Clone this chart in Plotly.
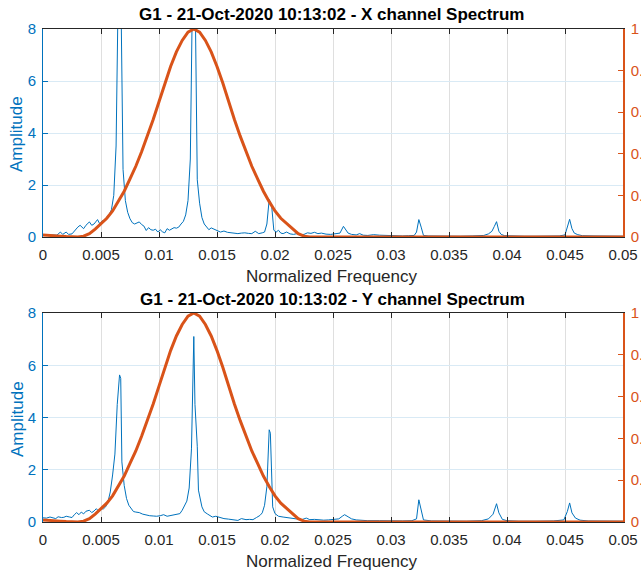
import plotly.graph_objects as go

# ---------------- data ----------------
freq_x = [0.0000, 0.0004, 0.0008, 0.0012, 0.0015, 0.0017, 0.0020, 0.0022, 0.0025, 0.0028,
          0.0030, 0.0032, 0.0035, 0.0037, 0.0040, 0.0042, 0.0044, 0.0047, 0.0049, 0.0051,
          0.0053, 0.0055, 0.0057, 0.0059, 0.0061, 0.0063, 0.0065, 0.0067, 0.0069, 0.0071,
          0.0073, 0.0075, 0.0077, 0.0079, 0.0081, 0.0083, 0.0085, 0.0087, 0.0089, 0.0091,
          0.0093, 0.0095, 0.0097, 0.0099, 0.0101, 0.0103, 0.0105, 0.0107, 0.0109, 0.0111,
          0.0113, 0.0115, 0.0117, 0.0119, 0.0121, 0.0123, 0.0125, 0.0127, 0.0129, 0.0131,
          0.0133, 0.0135, 0.0137, 0.0139, 0.0141, 0.0143, 0.0145, 0.0147, 0.0150, 0.0153,
          0.0156, 0.0159, 0.0162, 0.0165, 0.0168, 0.0171, 0.0174, 0.0177, 0.0180, 0.0183,
          0.0186, 0.0189, 0.0191, 0.0193, 0.0195, 0.0197, 0.0199, 0.0201, 0.0203, 0.0205,
          0.0207, 0.0210, 0.0213, 0.0216, 0.0219, 0.0222, 0.0225, 0.0228, 0.0231, 0.0234,
          0.0237, 0.0240, 0.0244, 0.0248, 0.0252, 0.0256, 0.0259, 0.0261, 0.0263, 0.0266,
          0.0270, 0.0273, 0.0276, 0.0280, 0.0285, 0.0290, 0.0295, 0.0300, 0.0305, 0.0310,
          0.0315, 0.0320, 0.0322, 0.0324, 0.0326, 0.0328, 0.0332, 0.0340, 0.0350, 0.0360,
          0.0370, 0.0380, 0.0384, 0.0387, 0.0389, 0.0391, 0.0393, 0.0395, 0.0398, 0.0405,
          0.0415, 0.0425, 0.0435, 0.0445, 0.0450, 0.0452, 0.0454, 0.0456, 0.0458, 0.0461,
          0.0465, 0.0475, 0.0485, 0.0500]
amp_x = [0.07, 0.06, 0.08, 0.07, 0.19, 0.10, 0.19, 0.10, 0.12, 0.30,
         0.38, 0.45, 0.32, 0.45, 0.58, 0.45, 0.50, 0.67, 0.50, 0.62,
         0.64, 0.77, 0.85, 1.05, 1.60, 3.50, 10.0, 10.0, 2.60, 1.40,
         0.95, 0.70, 0.55, 0.50, 0.55, 0.58, 0.48, 0.42, 0.25, 0.36,
         0.28, 0.26, 0.30, 0.19, 0.28, 0.20, 0.16, 0.32, 0.26, 0.30,
         0.36, 0.34, 0.38, 0.50, 0.60, 0.85, 1.40, 3.00, 10.0, 10.0,
         2.20, 1.30, 0.75, 0.50, 0.40, 0.28, 0.35, 0.30, 0.25, 0.19,
         0.23, 0.18, 0.16, 0.14, 0.13, 0.15, 0.16, 0.14, 0.13, 0.22,
         0.13, 0.16, 0.19, 0.50, 1.44, 1.25, 0.26, 0.19, 0.26, 0.15,
         0.13, 0.19, 0.12, 0.10, 0.13, 0.09, 0.10, 0.16, 0.14, 0.18,
         0.13, 0.15, 0.11, 0.10, 0.12, 0.15, 0.41, 0.30, 0.15, 0.10,
         0.08, 0.13, 0.07, 0.06, 0.09, 0.07, 0.06, 0.05, 0.05, 0.04,
         0.05, 0.06, 0.19, 0.67, 0.38, 0.06, 0.04, 0.03, 0.03, 0.03,
         0.04, 0.06, 0.12, 0.22, 0.40, 0.59, 0.22, 0.10, 0.05, 0.03,
         0.03, 0.03, 0.03, 0.04, 0.08, 0.38, 0.68, 0.32, 0.15, 0.09,
         0.05, 0.04, 0.04, 0.03]

freq_y = [0.0000, 0.0003, 0.0006, 0.0009, 0.0011, 0.0013, 0.0016, 0.0018, 0.0020, 0.0023,
          0.0025, 0.0027, 0.0029, 0.0031, 0.0033, 0.0035, 0.0037, 0.0040, 0.0042, 0.0044,
          0.0046, 0.0048, 0.0050, 0.0052, 0.0054, 0.0056, 0.0058, 0.0060, 0.0062, 0.0064,
          0.0066, 0.0067, 0.0068, 0.0070, 0.0072, 0.0074, 0.0076, 0.0078, 0.0080, 0.0083,
          0.0086, 0.0089, 0.0092, 0.0095, 0.0098, 0.0101, 0.0104, 0.0107, 0.0110, 0.0112,
          0.0115, 0.0118, 0.0120, 0.0122, 0.0124, 0.0126, 0.0128, 0.0130, 0.0131, 0.0133,
          0.0134, 0.0137, 0.0139, 0.0142, 0.0144, 0.0146, 0.0149, 0.0152, 0.0156, 0.0160,
          0.0164, 0.0168, 0.0171, 0.0175, 0.0178, 0.0181, 0.0184, 0.0187, 0.0189, 0.0191,
          0.0193, 0.0195, 0.0196, 0.0197, 0.0198, 0.0200, 0.0203, 0.0207, 0.0211, 0.0216,
          0.0220, 0.0223, 0.0227, 0.0230, 0.0234, 0.0238, 0.0242, 0.0246, 0.0250, 0.0255,
          0.0258, 0.0260, 0.0263, 0.0266, 0.0270, 0.0275, 0.0280, 0.0290, 0.0300, 0.0310,
          0.0318, 0.0322, 0.0324, 0.0326, 0.0328, 0.0335, 0.0350, 0.0365, 0.0378, 0.0384,
          0.0388, 0.0391, 0.0393, 0.0396, 0.0400, 0.0410, 0.0425, 0.0440, 0.0449, 0.0452,
          0.0454, 0.0456, 0.0459, 0.0463, 0.0470, 0.0485, 0.0500]
amp_y = [0.16, 0.15, 0.19, 0.14, 0.13, 0.20, 0.17, 0.18, 0.22, 0.19,
         0.17, 0.28, 0.36, 0.28, 0.38, 0.31, 0.41, 0.45, 0.36, 0.42,
         0.51, 0.41, 0.51, 0.50, 0.58, 0.77, 1.15, 1.80, 2.60, 4.50,
         5.63, 5.50, 2.30, 1.40, 0.90, 0.64, 0.50, 0.40, 0.38, 0.36,
         0.30, 0.26, 0.24, 0.23, 0.22, 0.24, 0.28, 0.22, 0.24, 0.26,
         0.30, 0.32, 0.45, 0.60, 0.80, 1.30, 2.80, 7.10, 4.50, 2.90,
         1.22, 0.58, 0.39, 0.30, 0.26, 0.19, 0.22, 0.17, 0.13, 0.11,
         0.09, 0.06, 0.13, 0.09, 0.10, 0.09, 0.17, 0.25, 0.35, 0.64,
         1.35, 3.53, 3.40, 1.60, 0.58, 0.32, 0.22, 0.19, 0.17, 0.13,
         0.10, 0.09, 0.15, 0.09, 0.10, 0.08, 0.07, 0.08, 0.10, 0.12,
         0.22, 0.28, 0.20, 0.12, 0.08, 0.06, 0.05, 0.05, 0.04, 0.04,
         0.05, 0.12, 0.85, 0.40, 0.08, 0.04, 0.03, 0.03, 0.05, 0.12,
         0.30, 0.70, 0.35, 0.10, 0.05, 0.03, 0.03, 0.04, 0.08, 0.40,
         0.73, 0.35, 0.15, 0.07, 0.04, 0.03, 0.03]

freq_w = [0.0000, 0.0005, 0.0010, 0.0015, 0.0020, 0.0025, 0.0030, 0.0035, 0.0040, 0.0045,
          0.0050, 0.0055, 0.0060, 0.0065, 0.0070, 0.0075, 0.0080, 0.0085, 0.0090, 0.0095,
          0.0100, 0.0105, 0.0110, 0.0115, 0.0120, 0.0125, 0.0130, 0.0135, 0.0140, 0.0145,
          0.0150, 0.0155, 0.0160, 0.0165, 0.0170, 0.0175, 0.0180, 0.0185, 0.0190, 0.0195,
          0.0200, 0.0205, 0.0210, 0.0215, 0.0220, 0.0225, 0.0230, 0.0300, 0.0400, 0.0500]
window = [0.010, 0.009, 0.007, 0.004, 0.002, 0.0005, 0.000, 0.004, 0.016, 0.038,
          0.065, 0.090, 0.125, 0.170, 0.220, 0.280, 0.340, 0.410, 0.485, 0.565,
          0.650, 0.740, 0.820, 0.890, 0.945, 0.985, 1.000, 0.985, 0.945, 0.890,
          0.820, 0.740, 0.650, 0.565, 0.485, 0.410, 0.340, 0.280, 0.220, 0.170,
          0.125, 0.090, 0.065, 0.038, 0.016, 0.004, 0.000, 0.000, 0.000, 0.000]

titles = ["G1 - 21-Oct-2020 10:13:02 - X channel Spectrum",
          "G1 - 21-Oct-2020 10:13:02 - Y channel Spectrum"]
x_ticks = [0, 0.005, 0.01, 0.015, 0.02, 0.025, 0.03, 0.035, 0.04, 0.045, 0.05]
x_ticktext = ["0", "0.005", "0.01", "0.015", "0.02", "0.025", "0.03", "0.035", "0.04", "0.045", "0.05"]
y_ticks = [0, 2, 4, 6, 8]
w_ticks = [0, 0.2, 0.4, 0.6, 0.8, 1]
w_ticktext = ["0", "0.2", "0.4", "0.6", "0.8", "1"]

# ---------------- styling ----------------
BLUE = "#0072BD"
ORANGE = "#D95319"
DARK = "#262626"
FONT = "Liberation Sans, Arial, sans-serif"
W, H = 641, 574
ML, MR, MT, MB = 43, 18, 29, 52
PW, PH = W - ML - MR, H - MT - MB

def py(Y):
    return (H - MB - Y) / PH

def px(X):
    return (X - ML) / PW

top_dom = [py(237), 1.0]
bot_dom = [0.0, py(313)]

fig = go.Figure()
fig.add_trace(go.Scatter(x=freq_x, y=amp_x, mode="lines", line=dict(color=BLUE, width=1),
                         xaxis="x", yaxis="y", showlegend=False))
fig.add_trace(go.Scatter(x=freq_w, y=window, mode="lines", line=dict(color=ORANGE, width=3),
                         xaxis="x", yaxis="y2", showlegend=False))
fig.add_trace(go.Scatter(x=freq_y, y=amp_y, mode="lines", line=dict(color=BLUE, width=1),
                         xaxis="x2", yaxis="y3", showlegend=False))
fig.add_trace(go.Scatter(x=freq_w, y=window, mode="lines", line=dict(color=ORANGE, width=3),
                         xaxis="x2", yaxis="y4", showlegend=False))

def xaxis(anchor):
    return dict(range=[0, 0.05], tickvals=x_ticks, ticktext=x_ticktext, anchor=anchor,
                showline=True, linecolor=DARK, linewidth=1, mirror="ticks",
                ticks="inside", ticklen=5, tickcolor=DARK, showgrid=True,
                gridcolor="#dfdfdf", gridwidth=1, zeroline=False, automargin=False,
                tickfont=dict(family=FONT, size=15, color=DARK), ticklabelstandoff=4)

def yleft(dom, anchor):
    return dict(domain=dom, range=[0, 8], tickvals=y_ticks, anchor=anchor,
                showline=True, linecolor=BLUE, linewidth=1, ticks="inside", ticklen=5,
                tickcolor=BLUE, showgrid=True, gridcolor="#d9eaf5", gridwidth=1, zeroline=False,
                automargin=False,
                tickfont=dict(family=FONT, size=15, color=BLUE), ticklabelstandoff=3)

def yright(overlay, anchor):
    return dict(overlaying=overlay, side="right", range=[0, 1], tickvals=w_ticks, ticktext=w_ticktext,
                anchor=anchor, showline=True, linecolor=ORANGE, linewidth=1.5, ticks="inside", ticklen=5,
                tickcolor=ORANGE, showgrid=False, zeroline=False, automargin=False,
                tickfont=dict(family=FONT, size=15, color=ORANGE), ticklabelstandoff=3)

fig.update_layout(
    width=W, height=H, margin=dict(l=ML, r=MR, t=MT, b=MB, autoexpand=False),
    paper_bgcolor="white", plot_bgcolor="white",
    xaxis=dict(domain=[0, 1], **xaxis("y")),
    yaxis=yleft(top_dom, "x"),
    yaxis2=yright("y", "x"),
    xaxis2=dict(domain=[0, 1], **xaxis("y3")),
    yaxis3=yleft(bot_dom, "x2"),
    yaxis4=yright("y3", "x2"),
)

ann = []
for t, yc in zip(titles, [14, 299]):
    ann.append(dict(text="<b>" + t + "</b>", x=px(332), y=py(yc), xref="paper", yref="paper",
                    showarrow=False, xanchor="center", yanchor="middle",
                    font=dict(family=FONT, size=17, color="#000000")))
for yc in [276, 561]:
    ann.append(dict(text="Normalized Frequency", x=px(332), y=py(yc), xref="paper", yref="paper",
                    showarrow=False, xanchor="center", yanchor="middle",
                    font=dict(family=FONT, size=17, color=DARK)))
for yc in [134, 419]:
    ann.append(dict(text="Amplitude", x=px(17), y=py(yc), xref="paper", yref="paper",
                    showarrow=False, xanchor="center", yanchor="middle", textangle=-90,
                    font=dict(family=FONT, size=17, color=BLUE)))
fig.update_layout(annotations=ann)

fig.write_html("out.html")
